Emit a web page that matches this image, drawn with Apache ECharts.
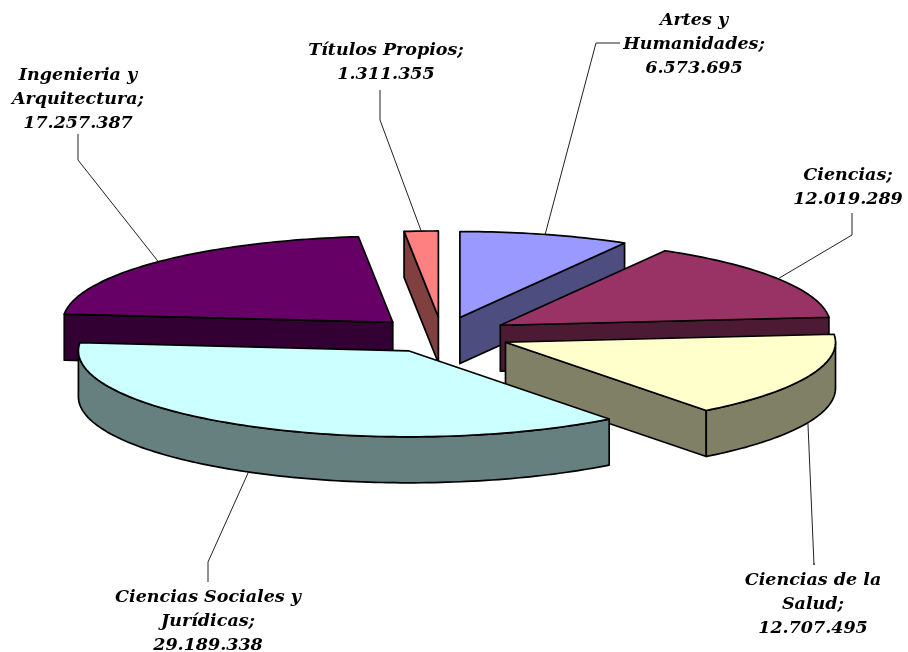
<!DOCTYPE html>
<html><head><meta charset="utf-8">
<style>html,body{margin:0;padding:0;background:#fff}#c{width:908px;height:652px}</style>
<script src="https://cdn.jsdelivr.net/npm/echarts@6/dist/echarts.min.js"></script>
</head><body><div id="c"></div>
<script>
// ---- data ----
const categories = ['Artes y Humanidades','Ciencias','Ciencias de la Salud','Ciencias Sociales y Jurídicas','Ingenieria y Arquitectura','Títulos Propios'];
const values = [6573695,12019289,12707495,29189338,17257387,1311355];
const valueLabels = ['6.573.695','12.019.289','12.707.495','29.189.338','17.257.387','1.311.355'];
const labelLines = [['Artes y','Humanidades;'],['Ciencias;'],['Ciencias de la','Salud;'],['Ciencias Sociales y','Jurídicas;'],['Ingenieria y','Arquitectura;'],['Títulos Propios;']];
// ---- style ----
const topColors  = ['#9999FF','#993366','#FFFFCC','#CCFFFF','#660066','#FF8080'];
const sideColors = ['#4D4D80','#4D1A33','#808066','#668080','#330033','#804040'];
// ---- layout (px) ----
const W=908,H=652,CX=442,CY=335,RX=330,RY=86,DEPTH=46,EXPLODE=0.21;
const labelCenters = [[694,20],[848,175],[813,580],[208,597],[78,75],[386,50]];
const leaderKnees = [[[596,43],[620,43]],[[852,235],[852,213]],[[814,565],[814,563]],[[208,562],[208,582]],[[78,160],[78,134]],[[380,120],[380,90]]];
const LINE_H=24;

const total = values.reduce((a,b)=>a+b,0);
let acc=0;
const slices = values.map((v,i)=>{const s=acc/total*2*Math.PI;acc+=v;const e=acc/total*2*Math.PI;return {i,s,e,m:(s+e)/2};});

// the axes use pie units: 1 x unit = RX px, 1 y unit = RY px, origin at the pie centre
const dz = DEPTH/RY;
function rim(sl,a,drop){return [EXPLODE*Math.sin(sl.m)+Math.sin(a), EXPLODE*Math.cos(sl.m)+Math.cos(a)-(drop||0)];}
function apex(sl,drop){return [EXPLODE*Math.sin(sl.m), EXPLODE*Math.cos(sl.m)-(drop||0)];}
function arc(sl,a,b,drop){const n=Math.max(2,Math.ceil((b-a)/0.02)),p=[];for(let k=0;k<=n;k++)p.push(rim(sl,a+(b-a)*k/n,drop));return p;}

function poly(api,pts,fill,z){
  return {type:'polygon',z2:z,shape:{points:pts.map(p=>api.coord(p))},style:{fill:fill,stroke:'#000',lineWidth:1.7,lineJoin:'round'}};
}
function renderSlice(params,api){
  const sl=slices[api.value(0)],i=sl.i,ch=[];
  // radial faces that look down toward the viewer
  [[sl.s,Math.sin(sl.s)<0],[sl.e,Math.sin(sl.e)>0]].forEach(([a,vis])=>{
    if(vis) ch.push(poly(api,[apex(sl),rim(sl,a),rim(sl,a,dz),apex(sl,dz)],sideColors[i],1));
  });
  // outer wall on the near half of the rim
  const a=Math.max(sl.s,Math.PI/2),b=Math.min(sl.e,Math.PI*1.5);
  if(b>a) ch.push(poly(api,arc(sl,a,b,0).concat(arc(sl,a,b,dz).reverse()),sideColors[i],2));
  // top
  ch.push(poly(api,[apex(sl)].concat(arc(sl,sl.s,sl.e,0)),topColors[i],3));
  return {type:'group',children:ch};
}
function renderLabel(params,api){
  const i=api.value(0),sl=slices[i],ch=[];
  const front=Math.cos(sl.m)<0;
  const start=api.coord(rim(sl,sl.m,front?dz:0));
  ch.push({type:'polyline',shape:{points:[start].concat(leaderKnees[i])},style:{fill:null,stroke:'#222',lineWidth:1}});
  labelLines[i].concat([valueLabels[i]]).forEach((t,k)=>{
    ch.push({type:'text',x:labelCenters[i][0],y:labelCenters[i][1]+k*LINE_H,
      style:{text:t,fill:'#000',align:'center',verticalAlign:'middle',font:'italic bold 17.5px "DejaVu Serif"'}});
  });
  return {type:'group',children:ch};
}
const drawOrder=[4,5,0,1,2,3];
const chart=echarts.init(document.getElementById('c'),null,{renderer:'canvas'});
chart.setOption({
  animation:false,backgroundColor:'#fff',
  grid:{left:0,top:0,width:W,height:H},
  xAxis:{type:'value',min:-CX/RX,max:(W-CX)/RX,show:false},
  yAxis:{type:'value',min:-(H-CY)/RY,max:CY/RY,show:false},
  series:[
    {type:'custom',coordinateSystem:'cartesian2d',renderItem:renderSlice,clip:false,silent:true,
     encode:{x:1,y:2},data:drawOrder.map(i=>[i,0,0,values[i]]),z:2},
    {type:'custom',coordinateSystem:'cartesian2d',renderItem:renderLabel,clip:false,silent:true,
     encode:{x:1,y:2},data:categories.map((c,i)=>[i,0,0,values[i]]),z:3}
  ]
});
</script></body></html>
